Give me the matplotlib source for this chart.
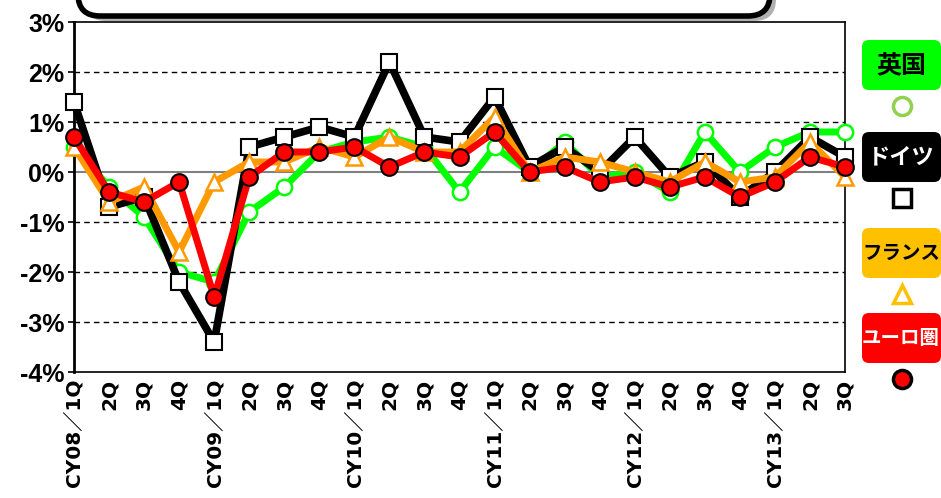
import matplotlib
matplotlib.use("Agg")
import matplotlib.pyplot as plt
from matplotlib import font_manager
from matplotlib.patches import FancyBboxPatch
from matplotlib.lines import Line2D
from matplotlib.transforms import IdentityTransform

# 四半期ラベル
quarters = ["CY08／1Q", "2Q", "3Q", "4Q",
            "CY09／1Q", "2Q", "3Q", "4Q",
            "CY10／1Q", "2Q", "3Q", "4Q",
            "CY11／1Q", "2Q", "3Q", "4Q",
            "CY12／1Q", "2Q", "3Q", "4Q",
            "CY13／1Q", "2Q", "3Q"]

uk = [0.5, -0.3, -0.9, -2.0, -2.2, -0.8, -0.3, 0.4, 0.6, 0.7, 0.5, -0.4,
      0.5, 0.0, 0.6, -0.1, 0.0, -0.4, 0.8, 0.0, 0.5, 0.8, 0.8]
germany = [1.4, -0.7, -0.5, -2.2, -3.4, 0.5, 0.7, 0.9, 0.7, 2.2, 0.7, 0.6,
           1.5, 0.1, 0.5, 0.0, 0.7, -0.1, 0.2, -0.5, 0.0, 0.7, 0.3]
france = [0.5, -0.6, -0.3, -1.6, -0.2, 0.2, 0.2, 0.5, 0.3, 0.7, 0.4, 0.4,
          1.1, 0.0, 0.3, 0.2, 0.0, -0.2, 0.2, -0.2, -0.1, 0.6, -0.1]
euro = [0.7, -0.4, -0.6, -0.2, -2.5, -0.1, 0.4, 0.4, 0.5, 0.1, 0.4, 0.3,
        0.8, 0.0, 0.1, -0.2, -0.1, -0.3, -0.1, -0.5, -0.2, 0.3, 0.1]

yticks = [3, 2, 1, 0, -1, -2, -3, -4]

names = [f.name for f in font_manager.fontManager.ttflist]
narrow = "Liberation Sans Narrow" if "Liberation Sans Narrow" in names else "Liberation Sans"
jp = ["Noto Sans CJK JP", "DejaVu Sans"]

W, H = 941, 498
fig = plt.figure(figsize=(W / 100, H / 100), dpi=100)
ax = fig.add_axes([74 / W, 1 - 372 / H, (845 - 74) / W, 350 / H])

x = list(range(len(quarters)))
ax.plot(x, uk, color="#00FF00", lw=5, marker="o", ms=11, mfc="white",
        mec="#00FF00", mew=1.8, zorder=3, clip_on=False)
ax.plot(x, germany, color="black", lw=5.5, marker="s", ms=12, mfc="white",
        mec="black", mew=1.5, zorder=4, clip_on=False)
ax.plot(x, france, color="#FF9900", lw=5, marker="^", ms=12, mfc="white",
        mec="#FF9900", mew=1.8, zorder=5, clip_on=False)
ax.plot(x, euro, color="#FF0000", lw=5, marker="o", ms=12, mfc="#FF0000",
        mec="black", mew=1.5, zorder=6, clip_on=False)

ax.set_xlim(0, len(quarters) - 1)
ax.set_ylim(-4, 3)
for v in yticks:
    if v == 0:
        ax.axhline(v, color="#808080", lw=1.5, zorder=1)
    elif v not in (3, -4):
        ax.axhline(v, color="black", lw=1, ls=(0, (4, 3)), zorder=1)

ax.set_yticks(yticks)
ax.set_yticklabels([f"{v}%" for v in yticks], fontsize=18, fontweight="bold",
                   family=narrow)
ax.set_xticks(x)
ax.set_xticklabels(quarters, rotation=90, fontsize=14.5, fontweight="bold",
                   family=["DejaVu Sans", "Noto Sans CJK JP"],
                   va="top", ha="center")
ax.tick_params(axis="x", length=0, pad=5)
ax.tick_params(axis="y", length=4, width=1.2, pad=3)
for s in ax.spines.values():
    s.set_color("black")
    s.set_linewidth(1.2)
ax.spines["left"].set_linewidth(2)

# タイトル枠(上部で切れている)
tr = IdentityTransform()
shadow = FancyBboxPatch((84, H - 21), 692, 80, boxstyle="round,pad=0,rounding_size=22",
                        fc="#B0B0B0", ec="none", transform=tr, zorder=1)
box = FancyBboxPatch((78, H - 16), 692, 80, boxstyle="round,pad=0,rounding_size=22",
                     fc="white", ec="black", lw=4, transform=tr, zorder=2)
fig.patches.extend([shadow, box])

# 凡例
legend = [("英国", "#00FF00", "black", 18, "o", "white", "#92D050"),
          ("ドイツ", "black", "white", 16, "s", "white", "black"),
          ("フランス", "#FFC000", "black", 14, "^", "white", "#FFC000"),
          ("ユーロ圏", "#FF0000", "white", 14, "o", "#FF0000", "black")]
tops = [40, 132, 228, 313]
for (lab, bg, fg, fs, mk, mf, me), top in zip(legend, tops):
    p = FancyBboxPatch((862, H - top - 50), 79, 50,
                       boxstyle="round,pad=0,rounding_size=7",
                       fc=bg, ec="none", transform=tr, zorder=2)
    fig.patches.append(p)
    fig.text(901 / W, 1 - (top + 25) / H, lab, color=fg, fontsize=fs,
             fontweight="bold", family=jp, ha="center", va="center")
    my = 1 - (top + 66) / H
    fig.add_artist(Line2D([902 / W], [my], marker=mk, ms=13, mfc=mf, mec=me,
                          mew=2.5, transform=fig.transFigure))

fig.savefig("out.png", dpi=100)
